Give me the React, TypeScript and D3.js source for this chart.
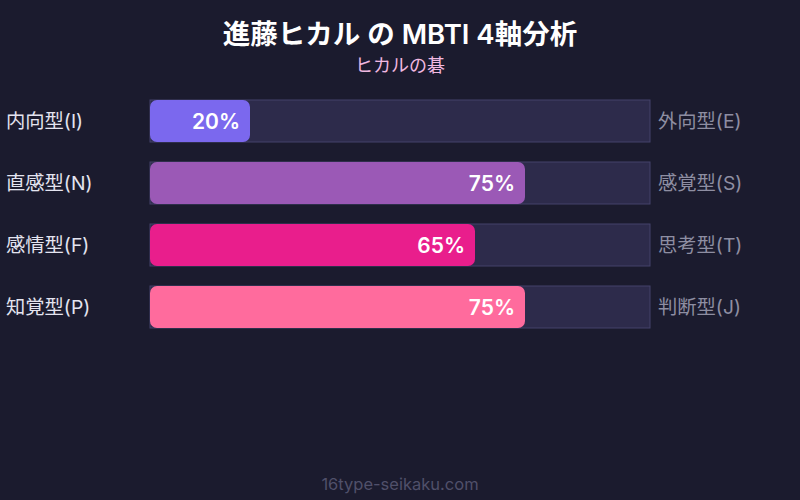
import React from "react";
import * as d3 from "d3";

const leftLabels = ["内向型(I)", "直感型(N)", "感情型(F)", "知覚型(P)"];
const rightLabels = ["外向型(E)", "感覚型(S)", "思考型(T)", "判断型(J)"];
const values = [20, 75, 65, 75];
const colors = ["#7b68ee", "#9b59b6", "#e91e8c", "#ff6b9d"];
const title = "進藤ヒカル の MBTI 4軸分析";
const subtitle = "ヒカルの碁";
const footer = "16type-seikaku.com";

const W = 800, H = 500;
const FONT = "Inter, 'Noto Sans CJK JP', 'Noto Sans', sans-serif";

export default function App() {
  const x = d3.scaleLinear().domain([0, 100]).range([150, 650]);
  const bh = 42;
  return (
    <svg width={W} height={H} style={{ position: "absolute", left: 0, top: 0, display: "block" }} fontFamily={FONT}>
      <rect width={W} height={H} fill="#1b1b2e" />
      <text x={400} y={44} textAnchor="middle" fill="#ffffff" fontSize={27.5} fontWeight={600}>{title}</text>
      <text x={400} y={72} textAnchor="middle" fill="#f0b8e0" fontSize={18}>{subtitle}</text>
      {values.map((v, i) => {
        const yy = 100 + i * 62;
        return (
          <g key={i}>
            <rect x={x(0)} y={yy} width={x(100) - x(0)} height={bh} fill="#2d2b4b" stroke="#45436a" strokeWidth={1} />
            <rect x={x(0)} y={yy} width={x(v) - x(0)} height={bh} rx={7} fill={colors[i]} />
            <text x={x(v) - 10} y={yy + bh / 2 + 8} textAnchor="end" fill="#ffffff" fontSize={21} fontWeight={600}>{v}%</text>
            <text x={6} y={yy + bh / 2 + 7} fill="#e4e4f0" fontSize={19.3}>{leftLabels[i]}</text>
            <text x={658} y={yy + bh / 2 + 7} fill="#8e8ea2" fontSize={19.3}>{rightLabels[i]}</text>
          </g>
        );
      })}
      <text x={400} y={490} textAnchor="middle" fill="#50506a" fontSize={16.5}>{footer}</text>
    </svg>
  );
}
